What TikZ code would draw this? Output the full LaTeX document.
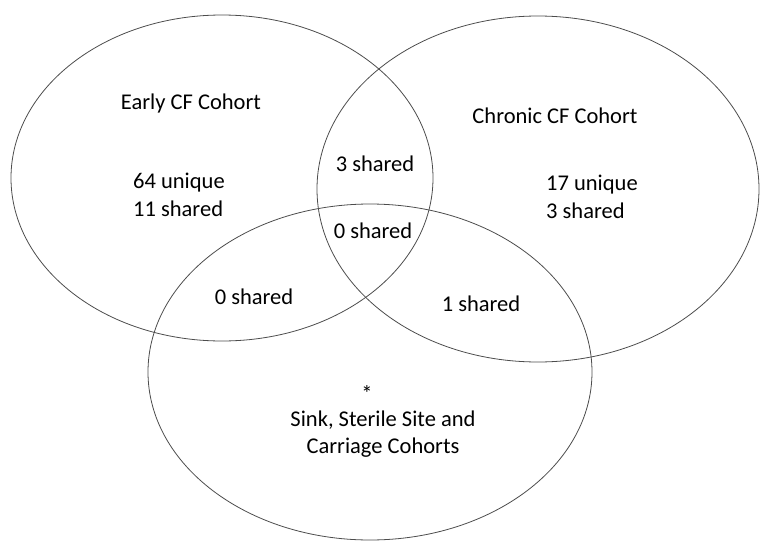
\documentclass[tikz,border=0pt]{standalone}
\usepackage{fontspec}
\setmainfont{Carlito}
\usepackage{tikz}

\begin{document}
\begin{tikzpicture}[x=1pt,y=-1pt,every node/.style={align=center,inner sep=0pt,font=\fontsize{22.5}{27.5}\selectfont},cohort/.style={draw=black!70,line width=0.8pt}]
\useasboundingbox (0,0) rectangle (761,541);
% the three cohorts
\draw[cohort] (222,178) ellipse [x radius=211pt,y radius=163pt];
\draw[cohort] (538,189) ellipse [x radius=221pt,y radius=173pt];
\draw[cohort] (370,372) ellipse [x radius=222pt,y radius=168pt];
% labels
\node (early) at (191,103) {Early CF Cohort};
\node (chronic) at (555,116) {Chronic CF Cohort};
\node[align=left,anchor=west] (earlyN) at (133,195) {64 unique\\11 shared};
\node[align=left,anchor=west] (chronicN) at (546,197) {17 unique\\3 shared};
\node (ec) at (375,164) {3 shared};
\node (all) at (373,231) {0 shared};
\node (es) at (254,297) {0 shared};
\node (cs) at (481,304) {1 shared};
\node (star) at (367,394) {*};
\node (sink) at (383,434) {Sink, Sterile Site and\\Carriage Cohorts};
\end{tikzpicture}
\end{document}
